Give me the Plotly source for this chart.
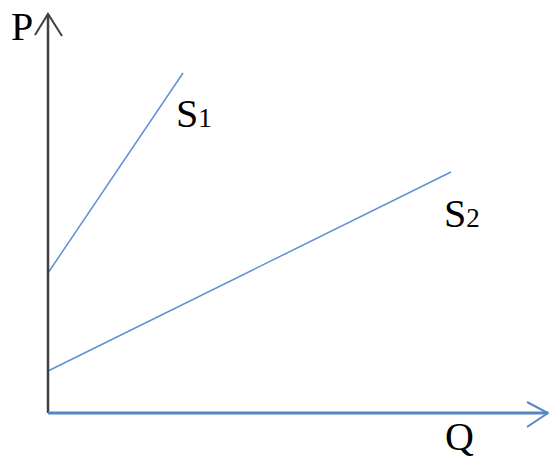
import plotly.graph_objects as go

# Supply curves, in plot units measured from the origin (Q right, P up)
s1_q = [0, 135]
s1_p = [140, 340]
s2_q = [0, 403]
s2_p = [42, 241]
curve_names = ['S', 'S']
curve_subs = ['1', '2']

LINE_BLUE = '#5F91D2'
AXIS_BLUE = '#5585C8'
AXIS_GRAY = '#404040'
FONT = 'Liberation Serif'

fig = go.Figure()

# Supply lines
for q, p in [(s1_q, s1_p), (s2_q, s2_p)]:
    fig.add_trace(go.Scatter(x=q, y=p, mode='lines',
                             line=dict(color=LINE_BLUE, width=1.5),
                             showlegend=False, hoverinfo='skip'))

# Axes drawn by hand with open arrowheads
x_len, y_len = 500, 399
fig.add_trace(go.Scatter(x=[0, 0], y=[0, y_len], mode='lines',
                         line=dict(color=AXIS_GRAY, width=2.5),
                         showlegend=False, hoverinfo='skip'))
fig.add_trace(go.Scatter(x=[-13, 0, 14], y=[y_len - 21, y_len, y_len - 22], mode='lines',
                         line=dict(color=AXIS_GRAY, width=2),
                         showlegend=False, hoverinfo='skip'))
fig.add_trace(go.Scatter(x=[0, x_len], y=[0, 0], mode='lines',
                         line=dict(color=AXIS_BLUE, width=3),
                         showlegend=False, hoverinfo='skip'))
fig.add_trace(go.Scatter(x=[x_len - 21, x_len, x_len - 21], y=[11, 0, -14], mode='lines',
                         line=dict(color=AXIS_BLUE, width=2),
                         showlegend=False, hoverinfo='skip'))

# Text labels
sub = '{}<span style="font-size:27px">{}</span>'
labels = [
    ('P', -39, 387),
    (sub.format(curve_names[0], curve_subs[0]), 126, 300),
    (sub.format(curve_names[1], curve_subs[1]), 394, 200),
    ('Q', 395, -23),
]
for text, x, y in labels:
    fig.add_annotation(x=x, y=y, text=text, showarrow=False,
                       xanchor='left', yanchor='middle',
                       font=dict(family=FONT, size=40, color='black'))

fig.update_layout(
    width=549, height=457, autosize=False,
    margin=dict(l=0, r=0, t=0, b=0),
    plot_bgcolor='white', paper_bgcolor='white',
    xaxis=dict(range=[-48, 501], visible=False, fixedrange=True),
    yaxis=dict(range=[-44, 413], visible=False, fixedrange=True),
)

fig.write_html('out.html', config={'displayModeBar': False},
               post_script="document.body.style.margin='0';")
